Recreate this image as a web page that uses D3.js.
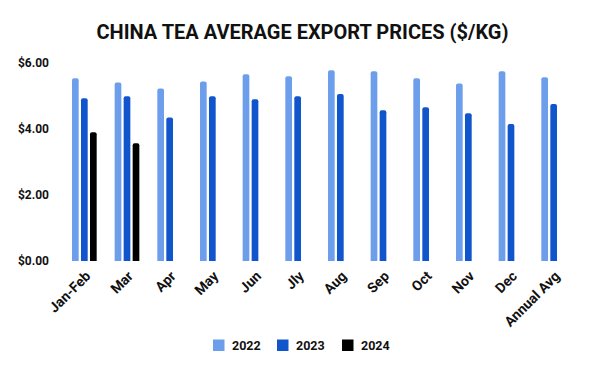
<!DOCTYPE html>
<html>
<head>
<meta charset="utf-8">
<script src="https://cdn.jsdelivr.net/npm/d3@7"></script>
<style>
  html, body { margin: 0; padding: 0; background: #fff; }
  svg { display: block; font-family: Roboto, "Noto Sans", sans-serif; }
</style>
</head>
<body>
<div id="chart"></div>
<script>
// data
var categories = ["Jan-Feb", "Mar", "Apr", "May", "Jun", "Jly", "Aug", "Sep", "Oct", "Nov", "Dec", "Annual Avg"];
var seriesNames = ["2022", "2023", "2024"];
var values2022 = [5.54, 5.41, 5.23, 5.44, 5.66, 5.60, 5.78, 5.75, 5.54, 5.38, 5.75, 5.57];
var values2023 = [4.93, 4.99, 4.35, 4.99, 4.90, 4.99, 5.06, 4.57, 4.66, 4.48, 4.15, 4.76];
var values2024 = [3.90, 3.57, null, null, null, null, null, null, null, null, null, null];
var yTicks = [0, 2, 4, 6];
var colors = ["#6d9eeb", "#1155cc", "#000000"];

var width = 600, height = 371;
var svg = d3.select("#chart").append("svg")
    .attr("width", width)
    .attr("height", height);

svg.append("text")
    .attr("x", 302.5)
    .attr("y", 38.5)
    .attr("text-anchor", "middle")
    .attr("font-size", 20)
    .attr("font-weight", "bold")
    .attr("fill", "#111")
    .text("CHINA TEA AVERAGE EXPORT PRICES ($/KG)");

var x0 = d3.scaleBand().domain(categories).range([63, 575]);
var x1 = d3.scaleBand().domain(seriesNames).range([0, 24.7]).paddingInner(0.256);
var y = d3.scaleLinear().domain([0, 6]).range([261, 63]);

// y axis labels only, no lines
var yAxis = d3.axisLeft(y).tickValues(yTicks)
    .tickFormat(function(d) { return "$" + d3.format(".2f")(d); })
    .tickSize(0).tickPadding(0);
var yg = svg.append("g").attr("transform", "translate(49,0)").call(yAxis);
yg.select(".domain").remove();
yg.selectAll("text")
    .attr("font-size", 12)
    .attr("font-weight", "bold")
    .attr("font-family", "Roboto")
    .attr("fill", "#111");

var series = [values2022, values2023, values2024];
var rows = [];
series.forEach(function(vals, si) {
    vals.forEach(function(v, i) {
        if (v != null) rows.push({cat: categories[i], s: seriesNames[si], v: v, c: colors[si]});
    });
});

function topRounded(x, y0, w, h, r) {
    return "M" + x + "," + (y0 + h) +
        "V" + (y0 + r) +
        "Q" + x + "," + y0 + " " + (x + r) + "," + y0 +
        "H" + (x + w - r) +
        "Q" + (x + w) + "," + y0 + " " + (x + w) + "," + (y0 + r) +
        "V" + (y0 + h) + "Z";
}

var groupOffset = (x0.bandwidth() - 24.7) / 2;
svg.append("g").selectAll("path")
    .data(rows)
    .join("path")
    .attr("fill", function(d) { return d.c; })
    .attr("d", function(d) {
        var bx = x0(d.cat) + groupOffset + x1(d.s);
        return topRounded(bx, y(d.v), x1.bandwidth(), y(0) - y(d.v), 2);
    });

// x axis labels rotated
var xAxis = d3.axisBottom(x0).tickSize(0).tickPadding(0);
var xg = svg.append("g").attr("transform", "translate(0,277)").call(xAxis);
xg.select(".domain").remove();
xg.selectAll("text")
    .attr("font-size", 14)
    .attr("font-weight", "bold")
    .attr("font-family", "Roboto")
    .attr("fill", "#111")
    .attr("text-anchor", "end")
    .attr("y", 0)
    .attr("dy", 0)
    .attr("transform", "translate(7,0) rotate(-45)");

// legend
var legendX = [213, 277, 342];
var legend = svg.append("g").selectAll("g")
    .data(seriesNames)
    .join("g")
    .attr("transform", function(d, i) { return "translate(" + legendX[i] + ",339.5)"; });
legend.append("rect")
    .attr("width", 11.5).attr("height", 11.5)
    .attr("fill", function(d, i) { return colors[i]; });
legend.append("text")
    .attr("x", 19).attr("y", 10)
    .attr("font-size", 12.5)
    .attr("font-weight", "bold")
    .attr("fill", "#111")
    .text(function(d) { return d; });
</script>
</body>
</html>
